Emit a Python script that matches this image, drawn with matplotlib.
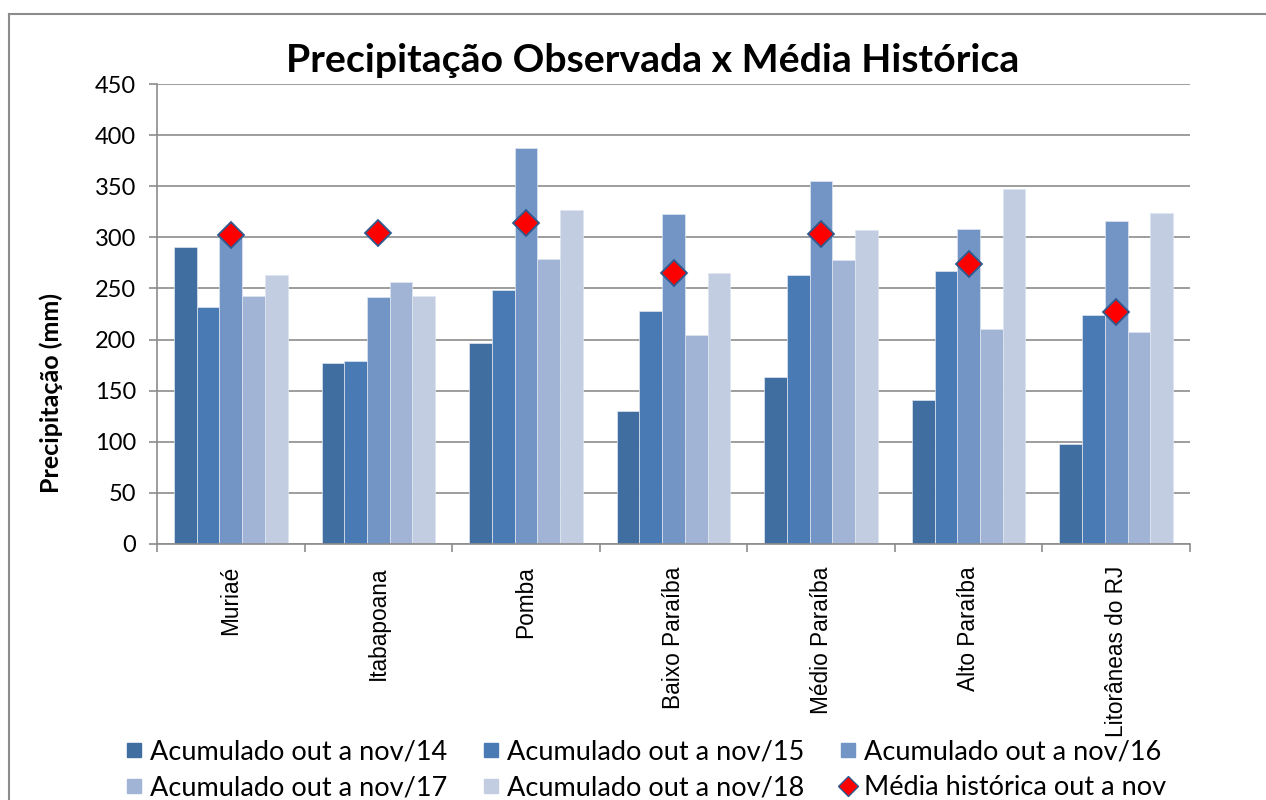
import matplotlib
matplotlib.use("Agg")
import matplotlib.pyplot as plt
from matplotlib.lines import Line2D
import numpy as np

# data
categories = ["Muriaé", "Itabapoana", "Pomba", "Baixo Paraíba",
              "Médio Paraíba", "Alto Paraíba", "Litorâneas do RJ"]
acum_14 = [291, 177, 197, 130, 163, 141, 98]
acum_15 = [232, 179, 248, 228, 263, 267, 224]
acum_16 = [301, 242, 387, 323, 355, 308, 316]
acum_17 = [243, 256, 279, 204, 278, 210, 207]
acum_18 = [263, 243, 327, 265, 307, 347, 324]
media_hist = [302, 304, 314, 265, 303, 274, 227]

series_labels = ["Acumulado out a nov/14", "Acumulado out a nov/15",
                 "Acumulado out a nov/16", "Acumulado out a nov/17",
                 "Acumulado out a nov/18"]
media_label = "Média histórica out a nov"

colors = ["#416ea0", "#4a7ab4", "#7395c5", "#a2b4d5", "#c2cde2"]
grid_gray = "#8c8c8c"
FONT = "Lato"

W, H = 1266, 800
fig = plt.figure(figsize=(W / 100, H / 100), dpi=100)
ax = fig.add_axes([157 / W, 1 - 544 / H, 1033 / W, 460 / H])

x = np.arange(len(categories))
w = 1 / 6.5
series = [acum_14, acum_15, acum_16, acum_17, acum_18]
handles = []
for i, vals in enumerate(series):
    ax.bar(x + (i - 2) * w, vals, width=w, color=colors[i],
           edgecolor="#dfe6f1", linewidth=0.5, zorder=2)
    handles.append(Line2D([], [], marker="s", linestyle="none",
                          markersize=10, color=colors[i]))

ax.plot(x, media_hist, linestyle="none", marker="D", markersize=13,
        markerfacecolor="#ff0000", markeredgecolor="#2f5a8f",
        markeredgewidth=1.3, zorder=3)
handles.append(Line2D([], [], marker="D", linestyle="none", markersize=10,
                      markerfacecolor="#ff0000", markeredgecolor="#2f5a8f",
                      markeredgewidth=1.0))

ax.set_xlim(-0.5, len(categories) - 0.5)
ax.set_ylim(0, 450)
ax.set_yticks(np.arange(0, 451, 50))
ax.yaxis.grid(True, color=grid_gray, linewidth=1.2)
ax.set_axisbelow(True)
for s in ["top", "right"]:
    ax.spines[s].set_visible(False)
for s in ["left", "bottom"]:
    ax.spines[s].set_color(grid_gray)
    ax.spines[s].set_linewidth(1.2)

ax.tick_params(axis="y", direction="out", length=6, width=1.2,
               color=grid_gray, labelsize=17, pad=9)
for lbl in ax.get_yticklabels():
    lbl.set_fontfamily(FONT)

ax.set_xticks(x)
ax.set_xticklabels(categories, rotation=90, fontsize=16.3,
                   fontfamily="Liberation Sans", va="top")
ax.set_xticks(np.arange(-0.5, len(categories)), minor=True)
ax.tick_params(axis="x", which="major", length=0, pad=16)
ax.tick_params(axis="x", which="minor", direction="out", length=6,
               width=1.2, color=grid_gray)

ax.set_ylabel("Precipitação (mm)", fontsize=18, fontweight="bold",
              fontfamily=FONT)
ax.yaxis.set_label_coords((63 - 157) / 1033, (544 - 393) / 460)

fig.text(653 / W, 1 - 60 / H, "Precipitação Observada x Média Histórica",
         ha="center", va="center", fontsize=28.3, fontweight="bold",
         fontfamily=FONT)

order = [0, 3, 1, 4, 2, 5]
all_labels = series_labels + [media_label]
leg = fig.legend([handles[k] for k in order], [all_labels[k] for k in order],
                 ncol=3, loc="center left", bbox_to_anchor=(126 / W, 1 - 770 / H),
                 frameon=False, prop={"family": FONT, "size": 19.5},
                 handlelength=0.6, handletextpad=0.3, columnspacing=1.3,
                 labelspacing=0.38, borderpad=0, borderaxespad=0)

# outer chart border (top and left edges visible in the crop)
fig.add_artist(Line2D([9 / W, 1], [1 - 14 / H, 1 - 14 / H],
                      color="#8c8c8c", linewidth=1.5))
fig.add_artist(Line2D([9 / W, 9 / W], [0, 1 - 14 / H],
                      color="#8c8c8c", linewidth=1.5))

fig.savefig("out.png", dpi=100)
